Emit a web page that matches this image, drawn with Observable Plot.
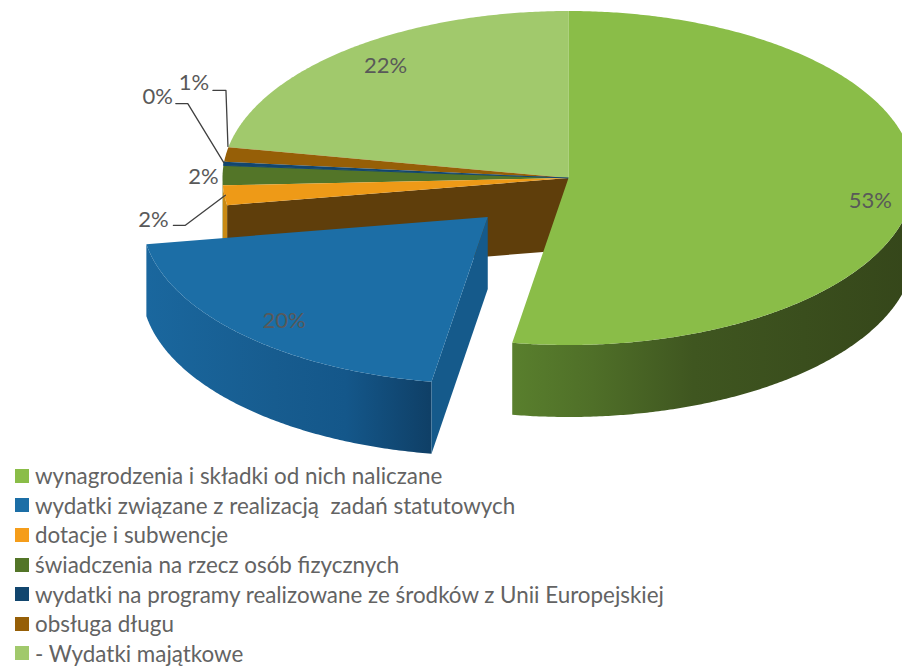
<!DOCTYPE html>
<html lang="pl">
<head>
<meta charset="utf-8">
<script src="https://cdn.jsdelivr.net/npm/d3@7"></script>
<script src="https://cdn.jsdelivr.net/npm/@observablehq/plot@0.6"></script>
<style>
  html, body { margin: 0; padding: 0; background: #fff; overflow: hidden; }
  svg { display: block; }
  #legend { font-family: Lato, sans-serif; font-size: 22.4px; color: #636363; padding-top: 1px; }
  .row { display: flex; align-items: center; height: 29.6px; padding-left: 15px; white-space: pre; }
  .sw { width: 14px; height: 14px; margin-right: 6px; flex: none; }
</style>
</head>
<body>
<div id="chart"></div>
<div id="legend"></div>
<script>
const categories = [
  "wynagrodzenia i składki od nich naliczane",
  "wydatki związane z realizacją  zadań statutowych",
  "dotacje i subwencje",
  "świadczenia na rzecz osób fizycznych",
  "wydatki na programy realizowane ze środków z Unii Europejskiej",
  "obsługa długu",
  "- Wydatki majątkowe"
];
const shares = [52.6, 19.8, 1.9, 1.9, 0.35, 1.4, 22.05];
const colors = ["#8abd48", "#1c6ea6", "#ee9a17", "#537528", "#12466e", "#965f07", "#a1c96c"];
const legendColors = ["#8abd48", "#1c6ea6", "#f59d1a", "#537528", "#12466e", "#965f07", "#a1c96c"];

// Layout of the 3-D pie
const W = 902, H = 460;
const cx = 568, cy = 177.5, rx = 346, ry = 167, depth = 72;
const exploded = 1, explodeBy = 0.33;
const deg = Math.PI / 180;

const arcs = d3.pie().sort(null).value(d => d)(shares);
const rim = (a, off = [0, 0], drop = 0) => ({
  x: cx + rx * Math.sin(a) + off[0],
  y: cy - ry * Math.cos(a) + off[1] + drop
});
const sweep = (a0, a1, off, drop) => {
  const n = Math.max(2, Math.ceil((a1 - a0) / (0.5 * deg)));
  return d3.range(n + 1).map(i => rim(a0 + (a1 - a0) * i / n, off, drop));
};
const midOf = s => (s.startAngle + s.endAngle) / 2;
const offsetOf = i => {
  if (i !== exploded) return [0, 0];
  const m = midOf(arcs[i]);
  return [explodeBy * rx * Math.sin(m), -explodeBy * ry * Math.cos(m)];
};
const centre = (off = [0, 0], drop = 0) => ({x: cx + off[0], y: cy + off[1] + drop});

const topFace = i => {
  const o = offsetOf(i), s = arcs[i];
  return [centre(o), ...sweep(s.startAngle, s.endAngle, o, 0)];
};
const outerSide = i => {
  const o = offsetOf(i), s = arcs[i];
  const a0 = Math.max(s.startAngle, Math.PI / 2), a1 = Math.min(s.endAngle, 1.5 * Math.PI);
  if (a1 <= a0) return [];
  return [...sweep(a0, a1, o, 0), ...sweep(a0, a1, o, depth).reverse()];
};
const radialWall = (i, a) => {
  const o = offsetOf(i);
  return [centre(o), rim(a, o), rim(a, o, depth), centre(o, depth)];
};

const poly = (points, fill, stroke = "none") => Plot.line(points, {x: "x", y: "y", fill, stroke, strokeWidth: 1, curve: "linear"});

const gradient = (id, stops) => {
  const g = d3.create("svg:linearGradient").attr("id", id).attr("x1", 0).attr("x2", 1).attr("y1", 0).attr("y2", 0);
  for (const [o, c] of stops) g.append("stop").attr("offset", o).attr("stop-color", c);
  return g.node();
};
const defs = () => {
  const d = d3.create("svg:defs");
  d.node().append(
    gradient("greenSide", [[0, "#597f2d"], [0.2, "#4f6f28"], [0.45, "#3f5620"], [1, "#35461a"]]),
    gradient("blueSide", [[0, "#1a679e"], [0.45, "#175c8f"], [0.7, "#14578a"], [1, "#0f3f66"]])
  );
  return d.node();
};

// Percent labels: nudged from each slice's rim midpoint
const labelNudge = [[-43, 9], [41, -14], [-71, 25], [-19, 2], [-66, -67], [-32, -72], [38, 16]];
const labels = arcs.map((s, i) => {
  const p = rim(midOf(s), offsetOf(i));
  return {x: p.x, y: p.y, dx: labelNudge[i][0], dy: labelNudge[i][1], text: `${Math.round(shares[i])}%`};
});

// Leader lines, relative to the same rim midpoints
const leaderBends = {
  2: [[1, 0], [-39, 30], [-51, 30]],
  4: [[0, -1], [-36, -60], [-48, -60]],
  5: [[2, -8], [0, -64], [-13, -64]]
};
const leaders = Object.entries(leaderBends).map(([i, bends]) => {
  const p = rim(midOf(arcs[+i]));
  return bends.map(([a, b]) => ({x: p.x + a, y: p.y + b}));
});

const chart = Plot.plot({
  width: W,
  height: H,
  margin: 0,
  x: {domain: [0, W], range: [0, W], axis: null},
  y: {domain: [0, H], range: [0, H], axis: null},
  marks: [
    defs,
    poly(outerSide(3), "#537528"),
    poly(radialWall(2, arcs[2].startAngle), "#5f3e0b"),
    poly(outerSide(2), "#c98a14"),
    poly(outerSide(0), "url(#greenSide)"),
    poly(topFace(6), colors[6]),
    poly(topFace(5), colors[5]),
    poly(topFace(3), colors[3]),
    poly(topFace(2), colors[2]),
    poly(topFace(4), colors[4], colors[4]),
    poly(topFace(0), colors[0]),
    poly(outerSide(1), "url(#blueSide)"),
    poly(radialWall(1, arcs[1].startAngle), "#155a8b"),
    poly(topFace(1), colors[1]),
    ...leaders.map(l => Plot.line(l, {x: "x", y: "y", stroke: "#404040", strokeWidth: 1.3, curve: "linear"})),
    ...labels.map(l => Plot.text([l], {
      x: "x", y: "y", text: "text", dx: l.dx, dy: l.dy,
      fontSize: 22, fontFamily: "Lato, sans-serif", fill: "#595959", textAnchor: "middle"
    }))
  ]
});
document.getElementById("chart").append(chart);

const legend = d3.select("#legend");
categories.forEach((c, i) => {
  const row = legend.append("div").attr("class", "row");
  row.append("span").attr("class", "sw").style("background", legendColors[i]);
  row.append("span").text(c);
});
</script>
</body>
</html>
